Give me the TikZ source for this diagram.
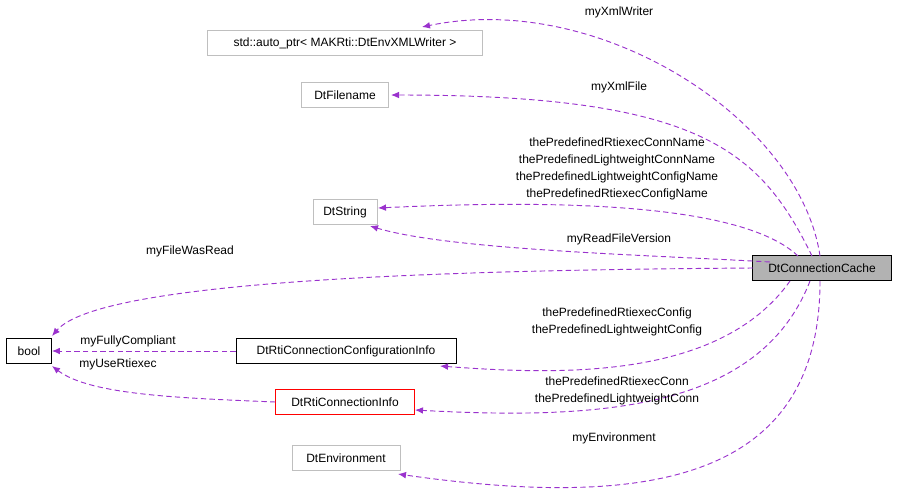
\documentclass[tikz,border=0pt]{standalone}
\usepackage{fontspec}
\setmainfont{Liberation Sans}
\usetikzlibrary{arrows.meta}
\definecolor{edge}{HTML}{9A32CD}
\begin{document}
\begin{tikzpicture}[x=0.75pt,y=-0.75pt,
  box/.style={draw=#1,fill=white,minimum height=19pt,inner xsep=3pt,font=\fontsize{9}{11}\selectfont,anchor=center},
  box/.default=black,
  lbl/.style={font=\fontsize{9}{12.75}\selectfont,align=center,inner sep=0pt},
  rel/.style={edge,dashed,dash pattern=on 4pt off 2.5pt,line width=0.7pt,-{Latex[length=6pt,width=5pt]}}]
\useasboundingbox (0,0) rectangle (899,497);
\node[box=gray!50,minimum width=206pt] (ap) at (345,43) {std::auto\_ptr< MAKRti::DtEnvXMLWriter >};
\node[box=gray!50,minimum width=65pt] (fn) at (345,95) {DtFilename};
\node[box=gray!50,minimum width=48pt] (st) at (345,212) {DtString};
\node[box,fill=gray!60,minimum width=104pt] (cc) at (822,268) {DtConnectionCache};
\node[box,minimum width=34pt] (b) at (29,351) {bool};
\node[box,minimum width=165pt] (ci) at (346,351) {DtRtiConnectionConfigurationInfo};
\node[box=red,minimum width=104pt] (ri) at (345,402) {DtRtiConnectionInfo};
\node[box=gray!50,minimum width=81pt] (en) at (346,458) {DtEnvironment};
\coordinate (c1) at (820,256);
\draw[rel] (c1) .. controls (800,120) and (600,-10) .. (422,27);
\draw[rel] (812,256) .. controls (760,150) and (700,95) .. (391,95);
\draw[rel] (798,256) .. controls (760,220) and (650,195) .. (378,208);
\draw[rel] (770,262) .. controls (650,255) and (450,250) .. (370,226);
\draw[rel] (753,268) .. controls (450,270) and (100,280) .. (52,336);
\draw[rel] (790,281) .. controls (720,380) and (560,375) .. (440,366);
\draw[rel] (810,281) .. controls (760,410) and (600,420) .. (415,410);
\draw[rel] (820,281) .. controls (820,480) and (650,510) .. (398,474);
\draw[rel] (ci.west) -- (b.east);
\draw[rel] (ri.west) .. controls (180,398) and (90,395) .. (52,366);
\node[lbl] at (619,12) {myXmlWriter};
\node[lbl] at (619,87) {myXmlFile};
\node[lbl] at (617,169) {thePredefinedRtiexecConnName\\thePredefinedLightweightConnName\\thePredefinedLightweightConfigName\\thePredefinedRtiexecConfigName};
\node[lbl] at (619,239) {myReadFileVersion};
\node[lbl] at (190,251) {myFileWasRead};
\node[lbl] at (617,322) {thePredefinedRtiexecConfig\\thePredefinedLightweightConfig};
\node[lbl] at (617,391) {thePredefinedRtiexecConn\\thePredefinedLightweightConn};
\node[lbl] at (614,438) {myEnvironment};
\node[lbl] at (128,341) {myFullyCompliant};
\node[lbl] at (118,364) {myUseRtiexec};
\end{tikzpicture}
\end{document}
